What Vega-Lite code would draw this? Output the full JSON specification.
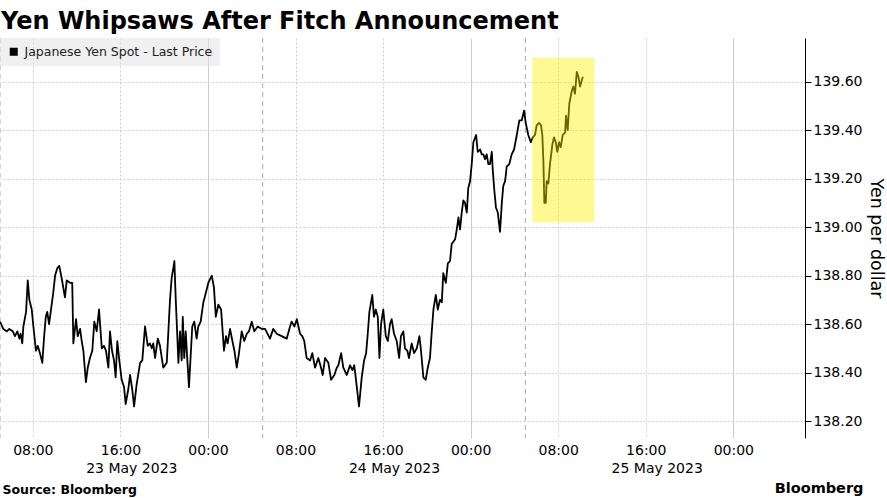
{
  "$schema": "https://vega.github.io/schema/vega-lite/v6.json",
  "width": 805,
  "height": 400,
  "autosize": "none",
  "padding": {"left": 0, "top": 38, "right": 82, "bottom": 60},
  "title": {"text": "Yen Whipsaws After Fitch Announcement", "anchor": "start", "frame": "group", "offset": 10, "baseline": "alphabetic", "fontSize": 24, "font": "DejaVu Sans", "fontWeight": "bold", "color": "#000", "dx": 1, "dy": 25},
  "datasets": {
    "fx": [
      {"t":"2023-05-23T05:00Z","v":138.61},{"t":"2023-05-23T05:18Z","v":138.58},{"t":"2023-05-23T05:37Z","v":138.57},{"t":"2023-05-23T05:51Z","v":138.58},{"t":"2023-05-23T06:10Z","v":138.57},{"t":"2023-05-23T06:22Z","v":138.55},{"t":"2023-05-23T06:35Z","v":138.57},{"t":"2023-05-23T06:46Z","v":138.54},{"t":"2023-05-23T06:53Z","v":138.56},{"t":"2023-05-23T07:02Z","v":138.52},
      {"t":"2023-05-23T07:08Z","v":138.59},{"t":"2023-05-23T07:23Z","v":138.65},{"t":"2023-05-23T07:32Z","v":138.78},{"t":"2023-05-23T07:41Z","v":138.70},{"t":"2023-05-23T07:54Z","v":138.66},{"t":"2023-05-23T08:03Z","v":138.59},{"t":"2023-05-23T08:17Z","v":138.49},{"t":"2023-05-23T08:27Z","v":138.51},{"t":"2023-05-23T08:39Z","v":138.48},{"t":"2023-05-23T08:52Z","v":138.44},
      {"t":"2023-05-23T09:01Z","v":138.54},{"t":"2023-05-23T09:11Z","v":138.63},{"t":"2023-05-23T09:19Z","v":138.65},{"t":"2023-05-23T09:29Z","v":138.60},{"t":"2023-05-23T09:38Z","v":138.65},{"t":"2023-05-23T09:52Z","v":138.73},{"t":"2023-05-23T10:02Z","v":138.80},{"t":"2023-05-23T10:14Z","v":138.83},{"t":"2023-05-23T10:25Z","v":138.84},{"t":"2023-05-23T10:38Z","v":138.79},
      {"t":"2023-05-23T10:56Z","v":138.71},{"t":"2023-05-23T11:06Z","v":138.78},{"t":"2023-05-23T11:24Z","v":138.77},{"t":"2023-05-23T11:36Z","v":138.77},{"t":"2023-05-23T11:42Z","v":138.52},{"t":"2023-05-23T11:57Z","v":138.62},{"t":"2023-05-23T12:06Z","v":138.55},{"t":"2023-05-23T12:19Z","v":138.58},{"t":"2023-05-23T12:28Z","v":138.53},{"t":"2023-05-23T12:37Z","v":138.49},
      {"t":"2023-05-23T12:51Z","v":138.36},{"t":"2023-05-23T13:01Z","v":138.42},{"t":"2023-05-23T13:13Z","v":138.46},{"t":"2023-05-23T13:26Z","v":138.49},{"t":"2023-05-23T13:37Z","v":138.61},{"t":"2023-05-23T13:50Z","v":138.57},{"t":"2023-05-23T14:03Z","v":138.66},{"t":"2023-05-23T14:18Z","v":138.50},{"t":"2023-05-23T14:30Z","v":138.51},{"t":"2023-05-23T14:41Z","v":138.49},
      {"t":"2023-05-23T14:54Z","v":138.42},{"t":"2023-05-23T15:03Z","v":138.57},{"t":"2023-05-23T15:14Z","v":138.49},{"t":"2023-05-23T15:25Z","v":138.45},{"t":"2023-05-23T15:34Z","v":138.38},{"t":"2023-05-23T15:43Z","v":138.53},{"t":"2023-05-23T15:54Z","v":138.45},{"t":"2023-05-23T16:07Z","v":138.37},{"t":"2023-05-23T16:20Z","v":138.34},{"t":"2023-05-23T16:29Z","v":138.27},
      {"t":"2023-05-23T16:43Z","v":138.33},{"t":"2023-05-23T16:53Z","v":138.39},{"t":"2023-05-23T17:05Z","v":138.33},{"t":"2023-05-23T17:15Z","v":138.26},{"t":"2023-05-23T17:29Z","v":138.35},{"t":"2023-05-23T17:48Z","v":138.44},{"t":"2023-05-23T18:00Z","v":138.45},{"t":"2023-05-23T18:15Z","v":138.59},{"t":"2023-05-23T18:30Z","v":138.51},{"t":"2023-05-23T18:42Z","v":138.52},
      {"t":"2023-05-23T18:52Z","v":138.50},{"t":"2023-05-23T19:00Z","v":138.52},{"t":"2023-05-23T19:10Z","v":138.46},{"t":"2023-05-23T19:25Z","v":138.54},{"t":"2023-05-23T19:37Z","v":138.51},{"t":"2023-05-23T19:55Z","v":138.42},{"t":"2023-05-23T20:14Z","v":138.44},{"t":"2023-05-23T20:23Z","v":138.57},{"t":"2023-05-23T20:32Z","v":138.70},{"t":"2023-05-23T20:41Z","v":138.79},
      {"t":"2023-05-23T20:50Z","v":138.83},{"t":"2023-05-23T20:56Z","v":138.86},{"t":"2023-05-23T21:03Z","v":138.71},{"t":"2023-05-23T21:12Z","v":138.55},{"t":"2023-05-23T21:18Z","v":138.44},{"t":"2023-05-23T21:27Z","v":138.57},{"t":"2023-05-23T21:36Z","v":138.45},{"t":"2023-05-23T21:42Z","v":138.63},{"t":"2023-05-23T21:50Z","v":138.46},{"t":"2023-05-23T21:58Z","v":138.57},
      {"t":"2023-05-23T22:07Z","v":138.45},{"t":"2023-05-23T22:16Z","v":138.34},{"t":"2023-05-23T22:26Z","v":138.48},{"t":"2023-05-23T22:34Z","v":138.59},{"t":"2023-05-23T22:45Z","v":138.61},{"t":"2023-05-23T22:58Z","v":138.54},{"t":"2023-05-23T23:07Z","v":138.59},{"t":"2023-05-23T23:20Z","v":138.61},{"t":"2023-05-23T23:35Z","v":138.69},{"t":"2023-05-23T23:49Z","v":138.73},
      {"t":"2023-05-24T00:02Z","v":138.77},{"t":"2023-05-24T00:21Z","v":138.80},{"t":"2023-05-24T00:33Z","v":138.75},{"t":"2023-05-24T00:43Z","v":138.63},{"t":"2023-05-24T00:57Z","v":138.68},{"t":"2023-05-24T01:12Z","v":138.66},{"t":"2023-05-24T01:28Z","v":138.49},{"t":"2023-05-24T01:39Z","v":138.55},{"t":"2023-05-24T01:48Z","v":138.52},{"t":"2023-05-24T02:01Z","v":138.58},
      {"t":"2023-05-24T02:14Z","v":138.53},{"t":"2023-05-24T02:25Z","v":138.49},{"t":"2023-05-24T02:38Z","v":138.42},{"t":"2023-05-24T02:50Z","v":138.48},{"t":"2023-05-24T03:05Z","v":138.57},{"t":"2023-05-24T03:19Z","v":138.53},{"t":"2023-05-24T03:33Z","v":138.56},{"t":"2023-05-24T03:45Z","v":138.57},{"t":"2023-05-24T04:00Z","v":138.61},{"t":"2023-05-24T04:14Z","v":138.57},
      {"t":"2023-05-24T04:33Z","v":138.59},{"t":"2023-05-24T04:55Z","v":138.58},{"t":"2023-05-24T05:13Z","v":138.58},{"t":"2023-05-24T05:40Z","v":138.54},{"t":"2023-05-24T05:58Z","v":138.58},{"t":"2023-05-24T06:17Z","v":138.56},{"t":"2023-05-24T06:44Z","v":138.55},{"t":"2023-05-24T07:12Z","v":138.54},{"t":"2023-05-24T07:30Z","v":138.59},{"t":"2023-05-24T07:39Z","v":138.61},
      {"t":"2023-05-24T07:54Z","v":138.59},{"t":"2023-05-24T08:07Z","v":138.62},{"t":"2023-05-24T08:25Z","v":138.56},{"t":"2023-05-24T08:37Z","v":138.55},{"t":"2023-05-24T08:48Z","v":138.53},{"t":"2023-05-24T09:01Z","v":138.46},{"t":"2023-05-24T09:20Z","v":138.45},{"t":"2023-05-24T09:32Z","v":138.48},{"t":"2023-05-24T09:47Z","v":138.42},{"t":"2023-05-24T10:05Z","v":138.46},
      {"t":"2023-05-24T10:20Z","v":138.42},{"t":"2023-05-24T10:29Z","v":138.39},{"t":"2023-05-24T10:42Z","v":138.46},{"t":"2023-05-24T11:00Z","v":138.44},{"t":"2023-05-24T11:15Z","v":138.37},{"t":"2023-05-24T11:33Z","v":138.39},{"t":"2023-05-24T11:46Z","v":138.42},{"t":"2023-05-24T11:55Z","v":138.43},{"t":"2023-05-24T12:10Z","v":138.48},{"t":"2023-05-24T12:22Z","v":138.42},
      {"t":"2023-05-24T12:41Z","v":138.39},{"t":"2023-05-24T12:59Z","v":138.43},{"t":"2023-05-24T13:12Z","v":138.41},{"t":"2023-05-24T13:22Z","v":138.43},{"t":"2023-05-24T13:30Z","v":138.38},{"t":"2023-05-24T13:48Z","v":138.26},{"t":"2023-05-24T14:03Z","v":138.38},{"t":"2023-05-24T14:16Z","v":138.45},{"t":"2023-05-24T14:27Z","v":138.48},{"t":"2023-05-24T14:36Z","v":138.56},
      {"t":"2023-05-24T14:45Z","v":138.65},{"t":"2023-05-24T15:01Z","v":138.72},{"t":"2023-05-24T15:10Z","v":138.63},{"t":"2023-05-24T15:20Z","v":138.66},{"t":"2023-05-24T15:31Z","v":138.63},{"t":"2023-05-24T15:40Z","v":138.46},{"t":"2023-05-24T15:49Z","v":138.60},{"t":"2023-05-24T16:01Z","v":138.66},{"t":"2023-05-24T16:15Z","v":138.55},{"t":"2023-05-24T16:26Z","v":138.53},
      {"t":"2023-05-24T16:38Z","v":138.60},{"t":"2023-05-24T16:47Z","v":138.62},{"t":"2023-05-24T17:00Z","v":138.56},{"t":"2023-05-24T17:15Z","v":138.53},{"t":"2023-05-24T17:28Z","v":138.46},{"t":"2023-05-24T17:38Z","v":138.55},{"t":"2023-05-24T17:51Z","v":138.57},{"t":"2023-05-24T18:00Z","v":138.50},{"t":"2023-05-24T18:13Z","v":138.49},{"t":"2023-05-24T18:22Z","v":138.46},
      {"t":"2023-05-24T18:37Z","v":138.52},{"t":"2023-05-24T18:50Z","v":138.48},{"t":"2023-05-24T19:05Z","v":138.50},{"t":"2023-05-24T19:19Z","v":138.55},{"t":"2023-05-24T19:28Z","v":138.49},{"t":"2023-05-24T19:41Z","v":138.38},{"t":"2023-05-24T19:54Z","v":138.37},{"t":"2023-05-24T20:05Z","v":138.42},{"t":"2023-05-24T20:17Z","v":138.46},{"t":"2023-05-24T20:27Z","v":138.57},
      {"t":"2023-05-24T20:36Z","v":138.66},{"t":"2023-05-24T20:49Z","v":138.72},{"t":"2023-05-24T21:00Z","v":138.66},{"t":"2023-05-24T21:12Z","v":138.70},{"t":"2023-05-24T21:22Z","v":138.69},{"t":"2023-05-24T21:30Z","v":138.81},{"t":"2023-05-24T21:44Z","v":138.77},{"t":"2023-05-24T21:55Z","v":138.85},{"t":"2023-05-24T22:07Z","v":138.86},{"t":"2023-05-24T22:16Z","v":138.93},
      {"t":"2023-05-24T22:35Z","v":138.95},{"t":"2023-05-24T22:44Z","v":138.99},{"t":"2023-05-24T22:53Z","v":139.04},{"t":"2023-05-24T23:02Z","v":138.99},{"t":"2023-05-24T23:11Z","v":139.06},{"t":"2023-05-24T23:20Z","v":139.11},{"t":"2023-05-24T23:29Z","v":139.10},{"t":"2023-05-24T23:39Z","v":139.06},{"t":"2023-05-24T23:47Z","v":139.16},{"t":"2023-05-24T23:57Z","v":139.19},
      {"t":"2023-05-25T00:06Z","v":139.26},{"t":"2023-05-25T00:15Z","v":139.35},{"t":"2023-05-25T00:30Z","v":139.38},{"t":"2023-05-25T00:39Z","v":139.31},{"t":"2023-05-25T00:52Z","v":139.32},{"t":"2023-05-25T01:01Z","v":139.30},{"t":"2023-05-25T01:10Z","v":139.30},{"t":"2023-05-25T01:19Z","v":139.28},{"t":"2023-05-25T01:28Z","v":139.30},{"t":"2023-05-25T01:37Z","v":139.26},
      {"t":"2023-05-25T01:46Z","v":139.26},{"t":"2023-05-25T01:56Z","v":139.31},{"t":"2023-05-25T02:01Z","v":139.24},{"t":"2023-05-25T02:10Z","v":139.15},{"t":"2023-05-25T02:19Z","v":139.08},{"t":"2023-05-25T02:29Z","v":139.06},{"t":"2023-05-25T02:41Z","v":138.98},{"t":"2023-05-25T02:51Z","v":139.10},{"t":"2023-05-25T02:59Z","v":139.17},{"t":"2023-05-25T03:09Z","v":139.19},
      {"t":"2023-05-25T03:18Z","v":139.25},{"t":"2023-05-25T03:32Z","v":139.26},{"t":"2023-05-25T03:45Z","v":139.30},{"t":"2023-05-25T03:58Z","v":139.32},{"t":"2023-05-25T04:13Z","v":139.38},{"t":"2023-05-25T04:27Z","v":139.44},{"t":"2023-05-25T04:40Z","v":139.44},{"t":"2023-05-25T04:53Z","v":139.48},{"t":"2023-05-25T05:02Z","v":139.43},{"t":"2023-05-25T05:16Z","v":139.38},
      {"t":"2023-05-25T05:30Z","v":139.35},{"t":"2023-05-25T05:41Z","v":139.37},{"t":"2023-05-25T05:53Z","v":139.38},{"t":"2023-05-25T06:02Z","v":139.42},{"t":"2023-05-25T06:15Z","v":139.43},{"t":"2023-05-25T06:26Z","v":139.42},{"t":"2023-05-25T06:33Z","v":139.38},{"t":"2023-05-25T06:39Z","v":139.27},{"t":"2023-05-25T06:44Z","v":139.10},{"t":"2023-05-25T06:52Z","v":139.10},
      {"t":"2023-05-25T06:57Z","v":139.19},{"t":"2023-05-25T07:06Z","v":139.18},{"t":"2023-05-25T07:15Z","v":139.26},{"t":"2023-05-25T07:28Z","v":139.34},{"t":"2023-05-25T07:37Z","v":139.37},{"t":"2023-05-25T07:47Z","v":139.35},{"t":"2023-05-25T07:55Z","v":139.31},{"t":"2023-05-25T08:05Z","v":139.35},{"t":"2023-05-25T08:14Z","v":139.33},{"t":"2023-05-25T08:25Z","v":139.38},
      {"t":"2023-05-25T08:38Z","v":139.39},{"t":"2023-05-25T08:43Z","v":139.46},{"t":"2023-05-25T08:52Z","v":139.40},{"t":"2023-05-25T09:01Z","v":139.51},{"t":"2023-05-25T09:14Z","v":139.56},{"t":"2023-05-25T09:23Z","v":139.58},{"t":"2023-05-25T09:32Z","v":139.55},{"t":"2023-05-25T09:42Z","v":139.64},{"t":"2023-05-25T09:51Z","v":139.62},{"t":"2023-05-25T10:00Z","v":139.58},
      {"t":"2023-05-25T10:15Z","v":139.62}
    ],
    "breaks": [{"t":"2023-05-23T05:00Z"},{"t":"2023-05-24T05:00Z"},{"t":"2023-05-25T05:00Z"}],
    "box": [{"t1":"2023-05-25T05:38Z","t2":"2023-05-25T11:18Z","lo":139.02,"hi":139.70}]
  },
  "resolve": {"axis": {"x": "independent"}},
  "layer": [
    {
      "data": {"name": "breaks"},
      "mark": {"type": "rule", "stroke": "#a8a8a8", "strokeWidth": 1, "strokeDash": [5, 4]},
      "encoding": {
        "x": {"field": "t", "type": "temporal", "axis": null,
              "scale": {"type": "utc", "domain": [{"year": 2023, "month": 5, "date": 23, "hours": 5, "utc": true}, {"year": 2023, "month": 5, "date": 26, "hours": 6, "minutes": 33, "utc": true}]}}
      }
    },
    {
      "data": {"name": "fx"},
      "mark": {"type": "line", "strokeWidth": 1.8, "strokeJoin": "round"},
      "encoding": {
        "x": {"field": "t", "type": "temporal",
              "axis": {
                "orient": "bottom",
                "values": [
                  {"year": 2023, "month": 5, "date": 23, "hours": 8, "utc": true},
                  {"year": 2023, "month": 5, "date": 23, "hours": 16, "utc": true},
                  {"year": 2023, "month": 5, "date": 24, "hours": 0, "utc": true},
                  {"year": 2023, "month": 5, "date": 24, "hours": 8, "utc": true},
                  {"year": 2023, "month": 5, "date": 24, "hours": 16, "utc": true},
                  {"year": 2023, "month": 5, "date": 25, "hours": 0, "utc": true},
                  {"year": 2023, "month": 5, "date": 25, "hours": 8, "utc": true},
                  {"year": 2023, "month": 5, "date": 25, "hours": 16, "utc": true},
                  {"year": 2023, "month": 5, "date": 26, "hours": 0, "utc": true}
                ],
                "labelExpr": "utcFormat(datum.value, '%H:%M')",
                "labelFont": "DejaVu Sans", "labelFontSize": 14, "labelColor": "#000", "labelPadding": 5, "labelDx": 2,
                "labelOverlap": false, "labelFlush": false, "labelBound": false,
                "ticks": false, "domain": false,
                "grid": true, "gridColor": "#cccccc", "gridWidth": 1,
                "gridDash": {"condition": {"test": "utchours(datum.value) == 0", "value": []}, "value": [2, 2]},
                "title": "Source: Bloomberg", "titleFont": "DejaVu Sans", "titleFontSize": 12.5, "titleFontWeight": "bold", "titleColor": "#000",
                "titleX": 2, "titleY": 55, "titleAlign": "left", "titleBaseline": "alphabetic"
              }},
        "y": {"field": "v", "type": "quantitative",
              "scale": {"domain": [138.13, 139.78], "nice": false, "zero": false},
              "axis": {
                "orient": "right",
                "values": [138.2, 138.3, 138.4, 138.5, 138.6, 138.7, 138.8, 138.9, 139.0, 139.1, 139.2, 139.3, 139.4, 139.5, 139.6, 139.7],
                "labelExpr": "round(datum.value*10) % 2 == 0 ? format(datum.value, '.2f') : ''",
                "labelFont": "DejaVu Sans", "labelFontSize": 14, "labelColor": "#000", "labelPadding": 2,
                "labelOverlap": false, "labelBound": false, "labelFlush": false,
                "domain": true, "domainColor": "#000", "domainWidth": 1,
                "ticks": true, "tickColor": "#000", "tickSize": 6, "tickWidth": 1,
                "grid": true, "gridColor": "#cccccc", "gridDash": [2, 2],
                "gridOpacity": {"condition": {"test": "round(datum.value*10) % 2 == 0", "value": 1}, "value": 0},
                "title": "Yen per dollar", "titleFont": "DejaVu Sans", "titleFontSize": 17.5, "titleFontWeight": "normal", "titleColor": "#000", "titlePadding": 5
              }},
        "stroke": {"datum": "Japanese Yen Spot - Last Price", "type": "nominal",
                   "scale": {"range": ["#000000"]},
                   "legend": {
                     "orient": "none", "legendX": 0, "legendY": 0, "title": null,
                     "fillColor": "rgba(225,225,225,0.5)", "padding": 7.5,
                     "symbolType": "square", "symbolSize": 64, "symbolFillColor": "#000", "symbolStrokeColor": "#000", "symbolStrokeWidth": 0,
                     "labelFont": "DejaVu Sans", "labelFontSize": 12.5, "labelColor": "#222", "labelOffset": 4.5, "labelLimit": 400
                   }}
      }
    },
    {
      "data": {"name": "box"},
      "mark": {"type": "rect", "fill": "#fff000", "opacity": 0.42},
      "encoding": {
        "x": {"field": "t1", "type": "temporal",
              "axis": {
                "orient": "bottom",
                "values": [
                  {"year": 2023, "month": 5, "date": 23, "hours": 17, "utc": true},
                  {"year": 2023, "month": 5, "date": 24, "hours": 17, "utc": true},
                  {"year": 2023, "month": 5, "date": 25, "hours": 17, "utc": true}
                ],
                "labelExpr": "utcFormat(datum.value, '%d %b %Y')",
                "labelFont": "DejaVu Sans", "labelFontSize": 14, "labelColor": "#000", "labelPadding": 23,
                "labelOverlap": false, "labelFlush": false, "labelBound": false,
                "ticks": false, "domain": false, "grid": false,
                "title": "Bloomberg", "titleFont": "DejaVu Sans", "titleFontSize": 14.5, "titleFontWeight": "bold", "titleColor": "#000",
                "titleX": 863, "titleY": 54.5, "titleAlign": "right", "titleBaseline": "alphabetic"
              }},
        "x2": {"field": "t2"},
        "y": {"field": "lo", "type": "quantitative"},
        "y2": {"field": "hi"}
      }
    }
  ],
  "config": {
    "font": "DejaVu Sans",
    "view": {"stroke": null},
    "background": "#ffffff"
  }
}
